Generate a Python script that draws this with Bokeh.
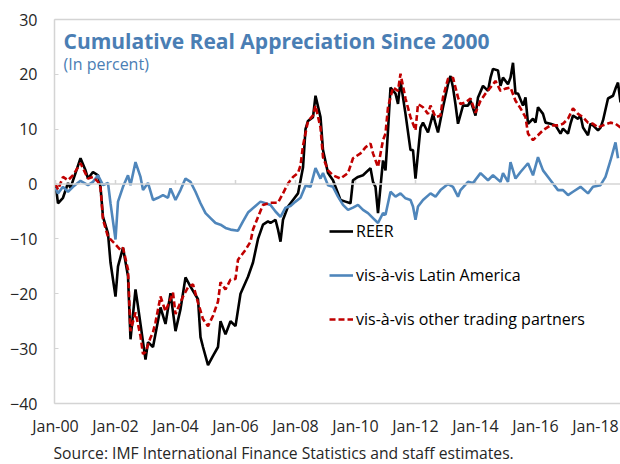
from bokeh.plotting import figure
from bokeh.models import (Range1d, FixedTicker, LinearAxis, Span, Label, Legend, LegendItem, Title)
from bokeh.embed import file_html
from bokeh.resources import INLINE

# ---- data (month index: 0 = Jan-2000) ----
reer_m = [0,1,3,5,6,8,10,12,13,15,17,18,19,21,22,24,25,27,29,30,32,33,36,37,39,42,44,46,48,50,52,54,57,58,59,61,63,65,66,68,70,72,74,77,79,81,83,85,86,88,89,90,91,93,95,97,99,100,101,103,104,106,107,109,111,114,116,118,119,121,123,126,127,128,129,131,132,133,134,136,137,138,140,142,143,144,146,147,149,151,152,153,155,157,158,159,160,161,163,165,166,168,169,171,173,174,175,177,178,179,181,182,183,184,185,187,188,189,191,192,193,195,196,198,200,202,203,205,206,207,209,210,211,213,214,215,217,218,219,221,223,224,225,226]
reer_v = [0,-3.5,-2.5,0.2,-0.7,2,4.7,2.5,1,2.2,1.6,-0.5,-6,-9,-14.3,-20.5,-15,-11.6,-16.8,-28.3,-19.2,-22.3,-32,-28.8,-29.7,-22.5,-25.5,-19.9,-26.8,-22.8,-17,-18.7,-21,-27.9,-29.7,-33,-31.3,-29.7,-25,-27.4,-25,-25.9,-20,-16.9,-14.3,-10,-7.4,-6.8,-7.1,-6.5,-8.3,-10.5,-6.5,-4.1,-2.9,-1.7,3,10,11.5,12.2,16.1,12.2,6.2,2,0.7,-2.9,-3.2,-3.5,0.7,1.3,1.6,2.9,0.4,-0.5,-5.3,4.3,2.5,9.8,17.6,16.5,14.6,18.8,12.8,6.2,6.2,1,10.3,11.2,9.4,12.8,11,9.4,14,18.2,19.7,17.6,14.5,11,14.3,14.3,15.2,12.5,15.8,17.9,17,19.4,21,20.7,17.9,19.4,18.2,19.4,22.1,16.5,16.5,14.3,15.8,11,11.9,11.2,14,12.8,11.2,11,10.7,9.2,10.1,9.2,11,12.5,11.9,12.5,10.3,8.9,11,10.7,9.8,10.3,11.6,15.6,16.1,17.4,18.5,14.9]

latam_m = [0,1,3,5,7,10,13,15,17,19,21,22,24,25,27,29,30,32,34,35,37,39,41,43,45,46,48,50,52,54,56,58,60,62,64,66,68,70,73,75,77,80,82,84,86,88,90,92,94,96,98,100,102,104,106,107,109,111,113,115,117,119,121,123,125,127,129,131,132,134,136,138,140,142,143,144,145,147,150,152,154,157,159,161,162,165,167,170,173,175,178,179,181,182,184,186,189,191,193,195,198,201,203,205,207,210,213,215,218,220,222,224,225]
latam_v = [-0.7,-1.7,-0.5,-1.4,-0.5,0.6,-0.2,0.4,1.6,-0.2,0.2,-3.5,-10.1,-3.2,-0.5,1.6,-0.2,4,1.3,-1.1,0.2,-2.9,-2.5,-2,-2.5,-0.8,-2.9,-1.1,1,0.4,-1.4,-3.5,-5.3,-6.2,-7.1,-7.4,-8,-8.3,-8.5,-6.8,-5.2,-4,-3.2,-3.5,-3.8,-5,-6,-4.3,-4,-3.2,-2.5,-0.3,-0.5,2.9,1,2,-0.2,-0.5,-2.3,-3.8,-4.7,-4.3,-3.8,-4.7,-5.3,-6.2,-7.1,-5.3,-5.6,-1.4,-2.3,-1.7,-2.6,-2.9,-4.1,-6.5,-4.1,-2.9,-1.7,-2.3,-1.1,0,-0.5,-2.3,-1.1,0.4,0.2,2,0.7,1.6,0.4,2,0.4,4,1,2.2,3.8,1.6,4.9,2.5,0.7,-1.1,-1.1,-2,-1.4,-0.5,-1.7,-0.5,-0.2,1.3,4.3,7.6,4.7]

other_m = [0,1,3,5,7,10,13,15,17,18,19,21,24,26,27,29,30,32,34,35,36,38,39,40,42,44,47,48,51,53,55,57,59,61,63,65,66,68,70,72,73,76,78,79,81,83,86,89,91,93,95,97,98,99,101,103,104,106,107,109,111,114,117,119,122,124,126,127,129,131,132,133,135,137,138,140,142,144,145,147,149,150,152,154,155,157,159,161,162,164,166,168,170,172,174,176,178,180,182,184,186,188,189,191,193,195,198,201,203,205,207,209,211,213,215,217,219,222,224,226]
other_v = [0,-1,1.3,0.7,1.6,3.8,1,1.3,0.4,-0.7,-6.5,-9.6,-11,-12,-11.6,-15.6,-26.8,-23.4,-27.7,-31,-30.6,-28,-27,-25.2,-20.5,-23.2,-19.8,-23.7,-20.5,-18.8,-18.3,-21.6,-24.6,-25.9,-24,-21.4,-17.9,-19.2,-17.4,-17.3,-13.8,-12,-10.5,-8.3,-6,-3.8,-3.4,-3.4,-1.7,0.1,1.3,2,3.4,7,11.5,12.5,14.3,10.3,4.9,2.5,1.6,1,2,4.7,5.6,6.7,7.4,5.6,3.1,8,9.2,14,17.6,17,20.1,15.6,12.2,9.8,14.6,14,12.8,14.3,12.2,12.5,15.8,19.2,19.4,15.8,14.6,14.9,15.6,13,15.2,16.5,17.6,18.8,17,17.4,17.6,15.2,13.8,12.2,9.2,8,8.9,9.8,10.7,10.7,11,11.9,13.8,12.8,12.2,11.2,11,10.3,10.7,11.2,11,10.3]

tick_months = [0, 24, 48, 72, 96, 120, 144, 168, 192, 216]
tick_labels = ["Jan-00", "Jan-02", "Jan-04", "Jan-06", "Jan-08", "Jan-10", "Jan-12", "Jan-14", "Jan-16", "Jan-18"]
y_ticks = [-40, -30, -20, -10, 0, 10, 20, 30]

title_text = "Cumulative Real Appreciation Since 2000"
subtitle_text = "(In percent)"
source_text = "Source: IMF International Finance Statistics and staff estimates."
series_names = ["REER", "vis-\u00e0-vis Latin America", "vis-\u00e0-vis other trading partners"]

# ---- styles ----
FONT = "Open Sans"
BLUE_T = "#4a7eb4"
C_REER = "#000000"
C_LATAM = "#4f86bb"
C_OTHER = "#c00000"
GRID = "#d4d4d4"
TXT = "#262626"

p = figure(width=620, height=464, output_backend="svg", toolbar_location=None,
           x_range=Range1d(-0.4, 226), y_range=Range1d(-40, 30),
           min_border_left=54, min_border_right=0, min_border_top=19, min_border_bottom=59)
p.outline_line_color = None
p.xgrid.visible = False
p.ygrid.visible = False
p.background_fill_color = "white"
p.border_fill_color = "white"

# left axis
ya = p.yaxis[0]
ya.ticker = FixedTicker(ticks=y_ticks)
ya.axis_line_color = GRID
ya.axis_line_width = 1.5
ya.major_tick_line_color = GRID
ya.major_tick_in = 4
ya.major_tick_out = 0
ya.minor_tick_line_color = None
ya.major_label_standoff = 17
ya.major_label_text_font = FONT
ya.major_label_text_font_size = "16px"
ya.major_label_text_color = TXT

# empty outer spacer axis on the left (keeps labels near the frame)
sp = LinearAxis(axis_line_color=None, major_tick_line_color=None, minor_tick_line_color=None,
                major_label_text_font_size="0px", major_label_standoff=0,
                major_tick_out=7, major_tick_in=0)
sp.ticker = FixedTicker(ticks=[0])
sp.major_label_overrides = {0: ""}
p.add_layout(sp, "left")

# bottom axis (labels only, line = bottom border)
xa = p.xaxis[0]
xa.ticker = FixedTicker(ticks=tick_months)
xa.major_label_overrides = {m: l for m, l in zip(tick_months, tick_labels)}
xa.axis_line_color = GRID
xa.axis_line_width = 1.5
xa.major_tick_line_color = None
xa.minor_tick_line_color = None
xa.major_tick_in = 0
xa.major_tick_out = 0
xa.major_label_standoff = 11
xa.major_label_text_font = FONT
xa.major_label_text_font_size = "16px"
xa.major_label_text_color = TXT

# source line below the axis
src = Title(text=source_text, align="left", offset=-1, standoff=1,
            text_font=FONT, text_font_size="15.7px", text_font_style="normal", text_color=TXT)
p.add_layout(src, "below")

# top border
ta = LinearAxis(axis_line_color=GRID, axis_line_width=1.5, major_tick_line_color=None,
                minor_tick_line_color=None, major_label_text_font_size="0px",
                major_label_standoff=0, major_tick_out=0, major_tick_in=0)
ta.ticker = FixedTicker(ticks=[])
p.add_layout(ta, "above")

# zero line with small ticks
p.add_layout(Span(location=0, dimension="width", line_color=GRID, line_width=1.5))
p.segment(x0=tick_months, y0=[0]*len(tick_months), x1=tick_months, y1=[0.75]*len(tick_months),
          line_color=GRID, line_width=1.5)

r1 = p.line(reer_m, reer_v, line_color=C_REER, line_width=2.6)
r2 = p.line(latam_m, latam_v, line_color=C_LATAM, line_width=2.6)
r3 = p.line(other_m, other_v, line_color=C_OTHER, line_width=2.6, line_dash="6 3")

legend = Legend(items=[LegendItem(label=series_names[0], renderers=[r1]),
                       LegendItem(label=series_names[1], renderers=[r2]),
                       LegendItem(label=series_names[2], renderers=[r3])],
                location=(275, 71), orientation="vertical",
                glyph_width=24, glyph_height=26, label_height=26, label_standoff=3,
                spacing=18, padding=0, margin=0,
                border_line_color=None, background_fill_alpha=0,
                label_text_font=FONT, label_text_font_size="16px", label_text_color="#000000")
p.add_layout(legend)

p.add_layout(Label(x=9, y=363, x_units="screen", y_units="screen", text=title_text,
                   text_font=FONT, text_font_style="bold", text_font_size="21px",
                   text_color=BLUE_T, text_baseline="alphabetic"))
p.add_layout(Label(x=9, y=340, x_units="screen", y_units="screen", text=subtitle_text,
                   text_font=FONT, text_font_size="16px",
                   text_color=BLUE_T, text_baseline="alphabetic"))

open("out.html", "w").write(file_html(p, INLINE))
